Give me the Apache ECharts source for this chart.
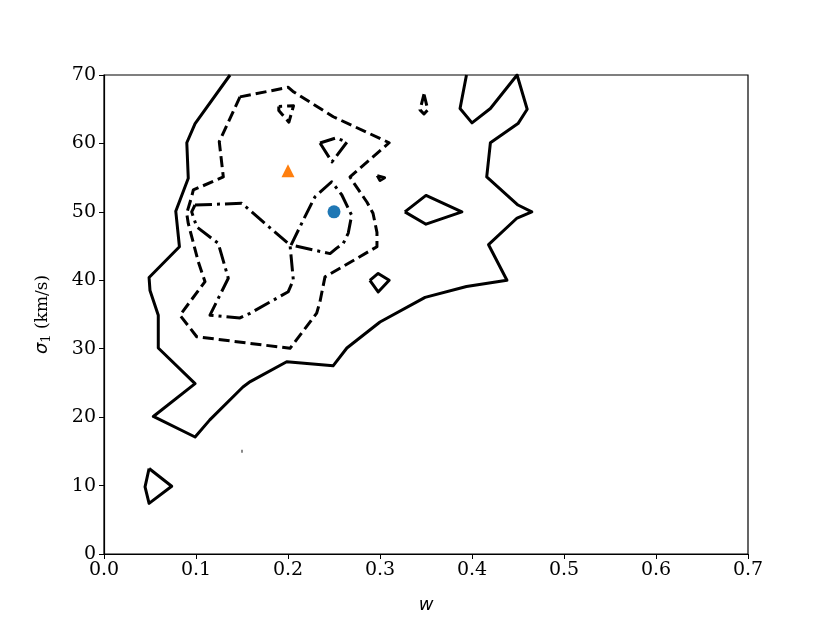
<!DOCTYPE html>
<html>
<head>
<meta charset="utf-8">
<script src="https://cdn.jsdelivr.net/npm/echarts@6/dist/echarts.min.js"></script>
<style>
  html, body { margin: 0; padding: 0; background: #fff; }
  #main { width: 830px; height: 623px; }
</style>
</head>
<body>
<div id="main"></div>
<script>
// axis ticks
var xTicks = [0.0, 0.1, 0.2, 0.3, 0.4, 0.5, 0.6, 0.7];
var yTicks = [0, 10, 20, 30, 40, 50, 60, 70];

// outer (solid) contour level, open at the top edge
var solidOuter = [
    [0.137, 70], [0.099, 62.9], [0.090, 60.1], [0.0916, 54.9], [0.078, 50.1],
    [0.082, 44.9], [0.049, 40.4], [0.050, 38.5], [0.059, 34.9], [0.059, 30.1],
    [0.099, 24.9], [0.0536, 20.1], [0.099, 17.1], [0.115, 19.6], [0.151, 24.4],
    [0.159, 25.2], [0.1986, 28.1], [0.249, 27.5], [0.264, 30.1], [0.300, 33.9],
    [0.349, 37.5], [0.394, 39.1], [0.438, 40.0], [0.418, 45.2], [0.449, 49.1],
    [0.465, 50.0], [0.450, 51.0], [0.416, 55.1], [0.420, 60.1], [0.450, 62.9],
    [0.460, 65.0], [0.449, 70], [0.420, 65.1], [0.400, 63.0], [0.387, 65.1],
    [0.394, 70]
];
// small solid loops (holes)
var solidDiamond = [[0.327, 50], [0.35, 52.4], [0.389, 50], [0.35, 48.2], [0.327, 50]];
var solidSmallDiamond = [[0.289, 40], [0.298, 41], [0.31, 40], [0.298, 38.3], [0.289, 40]];
var solidTriangle = [[0.049, 12.5], [0.0736, 9.9], [0.049, 7.4], [0.0446, 9.8], [0.049, 12.5]];
var solidBlob = [[0.297, 55.3], [0.305, 55.0], [0.300, 54.6], [0.297, 55.3]];
var solidSpeck = [[0.1495, 15.0], [0.1505, 15.0], [0.150, 14.9], [0.1495, 15.0]];

// middle (dashed) contour level
var dashedOuter = [
    [0.1478, 66.8], [0.2003, 68.2], [0.2054, 67.6], [0.2492, 63.9], [0.310, 60.1],
    [0.2674, 55.1], [0.2707, 54.4], [0.2859, 51.4], [0.2924, 49.8], [0.2967, 47.0],
    [0.2967, 44.9], [0.2402, 40.5], [0.2348, 36.9], [0.2312, 35.2], [0.2022, 30.06],
    [0.1008, 31.75], [0.0826, 34.9], [0.1098, 39.8], [0.1025, 42.7], [0.0916, 48.3],
    [0.0899, 49.8], [0.0953, 52.2], [0.0971, 53.2], [0.1297, 55.1], [0.1253, 60.25],
    [0.1478, 66.8]
];
var dashedSmallA = [[0.190, 65.4], [0.190, 64.8], [0.201, 63.1], [0.206, 65.5], [0.190, 65.4]];
var dashedSmallB = [[0.3478, 67.2], [0.3435, 64.9], [0.3478, 64.3], [0.352, 64.9], [0.3478, 67.2]];

// inner (dash-dot) contour level
var dashdotLeft = [
    [0.0989, 51.0], [0.1497, 51.25], [0.2022, 45.15], [0.2058, 40.04], [0.2003, 38.33],
    [0.1587, 35.17], [0.1478, 34.5], [0.1152, 34.9], [0.1351, 40.3], [0.1242, 45.4],
    [0.1008, 47.8], [0.0953, 50.0], [0.0989, 51.0]
];
var dashdotRight = [
    [0.2033, 45.15], [0.2166, 48.8], [0.2293, 52.2], [0.2475, 54.4], [0.2584, 52.5],
    [0.2692, 49.5], [0.2655, 46.9], [0.2601, 45.4], [0.2529, 44.7], [0.2457, 43.9],
    [0.2033, 45.15]
];
var dashdotSmall = [[0.2348, 60.06], [0.2478, 57.3], [0.2641, 60.2], [0.2522, 60.8], [0.2348, 60.06]];

// markers
var circlePoint = [[0.25, 50]];
var trianglePoint = [[0.2, 56]];

var myChart = echarts.init(document.getElementById('main'));

function contour(data, dash) {
    return {
        type: 'line',
        data: data,
        symbol: 'none',
        silent: true,
        z: 2,
        lineStyle: { color: '#000', width: 3, type: dash, cap: 'butt', join: 'round' }
    };
}

var DASHED = [11, 5];
var DASHDOT = [17, 5, 3, 5];

var option = {
    animation: false,
    backgroundColor: '#fff',
    grid: {
        left: 104, right: 82, top: 75, bottom: 69,
        show: true, borderColor: '#000', borderWidth: 1.2
    },
    xAxis: {
        type: 'value',
        min: 0, max: 0.7, interval: 0.1,
        name: 'w',
        nameLocation: 'middle',
        nameGap: 42,
        nameTextStyle: { fontFamily: 'DejaVu Sans', fontStyle: 'italic', fontSize: 18, color: '#000' },
        axisLine: { show: true, lineStyle: { color: '#000', width: 1.2 } },
        axisTick: { show: true, length: 5, lineStyle: { color: '#000', width: 1 } },
        axisLabel: {
            color: '#000', fontFamily: 'DejaVu Serif', fontSize: 19, margin: 7,
            formatter: function (v) { return v.toFixed(1); }
        },
        splitLine: { show: false }
    },
    yAxis: {
        type: 'value',
        min: 0, max: 70, interval: 10,
        name: '{s|σ}{sub|1}{t| (km/s)}',
        nameLocation: 'middle',
        nameGap: 51,
        nameTextStyle: {
            color: '#000',
            rich: {
                s: { fontFamily: 'DejaVu Sans', fontStyle: 'italic', fontSize: 18, color: '#000' },
                sub: { fontFamily: 'DejaVu Serif', fontSize: 13, color: '#000', verticalAlign: 'bottom', padding: [8, 0, 0, 0] },
                t: { fontFamily: 'DejaVu Serif', fontSize: 17, color: '#000' }
            }
        },
        axisLine: { show: true, lineStyle: { color: '#000', width: 1.2 } },
        axisTick: { show: true, length: 5, lineStyle: { color: '#000', width: 1 } },
        axisLabel: { color: '#000', fontFamily: 'DejaVu Serif', fontSize: 19, margin: 8 },
        splitLine: { show: false }
    },
    series: [
        contour(solidOuter, 'solid'),
        contour(solidDiamond, 'solid'),
        contour(solidSmallDiamond, 'solid'),
        contour(solidTriangle, 'solid'),
        contour(solidBlob, 'solid'),
        contour(solidSpeck, 'solid'),
        contour(dashedOuter, DASHED),
        contour(dashedSmallA, DASHED),
        contour(dashedSmallB, DASHED),
        contour(dashdotLeft, DASHDOT),
        contour(dashdotRight, DASHDOT),
        contour(dashdotSmall, DASHDOT),
        {
            type: 'scatter',
            data: circlePoint,
            symbol: 'circle',
            symbolSize: 13,
            z: 5,
            itemStyle: { color: '#1f77b4', opacity: 1 }
        },
        {
            type: 'scatter',
            data: trianglePoint,
            symbol: 'triangle',
            symbolSize: 13,
            z: 5,
            itemStyle: { color: '#ff7f0e', opacity: 1 }
        }
    ]
};

myChart.setOption(option);
</script>
</body>
</html>
